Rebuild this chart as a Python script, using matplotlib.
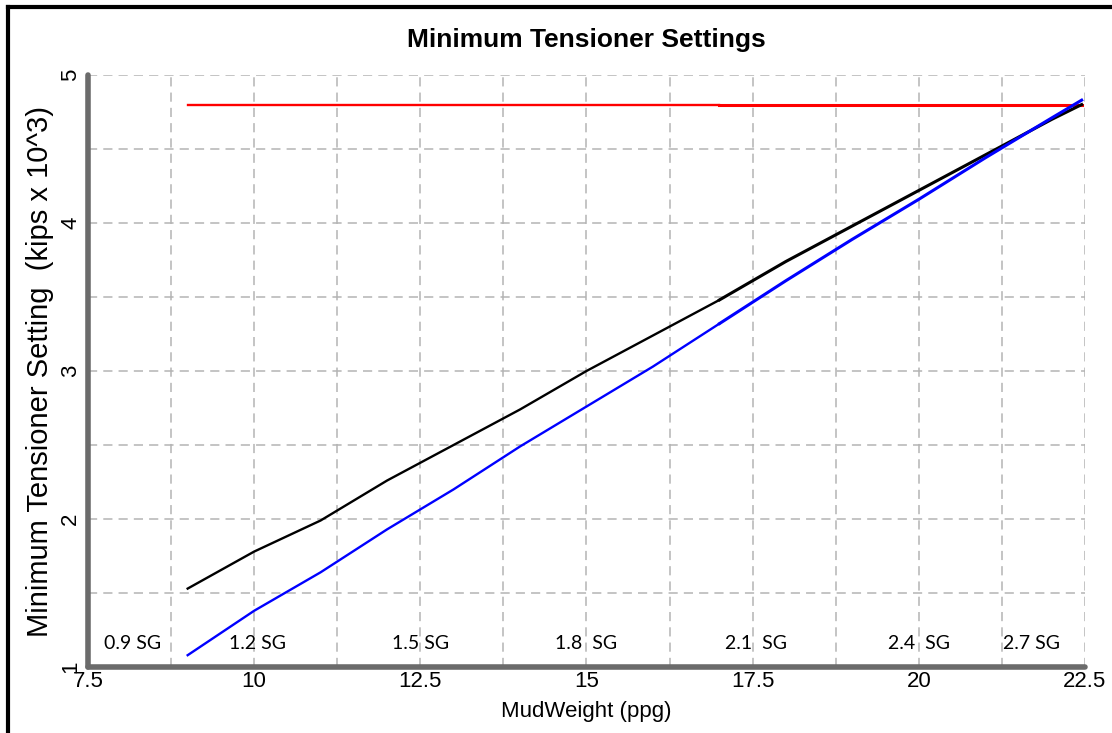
import numpy as np
import matplotlib.pyplot as plt
from matplotlib.lines import Line2D

# mud weight (ppg) and tensioner setting (kips x 10^3)
mud_wt = [9, 10, 11, 12, 13, 14, 15, 16, 17, 18, 19, 20, 21, 22, 22.45]
black_vals = [1.53, 1.78, 1.99, 2.26, 2.50, 2.74, 3.00, 3.24, 3.48, 3.74, 3.98, 4.22, 4.46, 4.70, 4.80]
blue_vals = [1.08, 1.38, 1.64, 1.93, 2.20, 2.49, 2.76, 3.03, 3.32, 3.61, 3.89, 4.16, 4.44, 4.71, 4.83]
red_vals = [4.8] * len(mud_wt)

sg_labels = ['0.9 SG', '1.2 SG', '1.5 SG', '1.8  SG', '2.1  SG', '2.4  SG', '2.7 SG']
sg_x = [8.17, 10.05, 12.5, 15.0, 17.55, 20.0, 21.7]
sg_y = 1.16

xticks = [7.5, 10, 12.5, 15, 17.5, 20, 22.5]
yticks = [1, 2, 3, 4, 5]

arial = ['Liberation Sans', 'DejaVu Sans']

fig = plt.figure(figsize=(11.12, 7.33), dpi=100)
ax = fig.add_axes([0.0791, 0.0900, 0.8966, 0.8077])

x = np.array(mud_wt)
split = mud_wt.index(17)
# the chart has the part past 17 ppg drawn twice, so it looks heavier there
for vals, col in [(red_vals, '#ff0000'), (black_vals, '#000000'), (blue_vals, '#0000ff')]:
    v = np.array(vals)
    ax.plot(x[:split + 1], v[:split + 1], color=col, lw=1.7, zorder=3)
    ax.plot(x[split:], v[split:], color=col, lw=2.2, zorder=3)

ax.set_xlim(7.5, 22.5)
ax.set_ylim(1, 5)
ax.set_xticks(xticks)
ax.set_xticks(np.arange(7.5, 22.6, 1.25), minor=True)
ax.set_yticks(yticks)
ax.set_yticks(np.arange(1, 5.01, 0.5), minor=True)
ax.set_xticklabels([f'{t:g}' for t in xticks], family=arial, fontsize=16)
ax.set_yticklabels([str(t) for t in yticks], family=arial, fontsize=16,
                   rotation=90, va='center')
ax.tick_params(axis='x', which='both', length=0, pad=3)
ax.tick_params(axis='y', which='both', length=0, pad=5)
ax.grid(which='both', color='#b4b4b4', ls=(0, (6, 4)), lw=1.1)

for side in ['top', 'right']:
    ax.spines[side].set_visible(False)
for side in ['left', 'bottom']:
    ax.spines[side].set_color('#6b6b6b')
    ax.spines[side].set_linewidth(4)
    ax.spines[side].set_capstyle('round')

for lab, sx in zip(sg_labels, sg_x):
    ax.text(sx, sg_y, lab, ha='center', va='center', fontsize=14,
            family=['Lato', 'DejaVu Sans'])

ax.set_title('Minimum Tensioner Settings', fontsize=19, fontweight='bold',
             family=arial, pad=20)
ax.set_xlabel('MudWeight (ppg)', family=arial, fontsize=16, labelpad=6)
ax.set_ylabel('Minimum Tensioner Setting  (kips x 10^3)', family=arial,
              fontsize=21, labelpad=4)

# frame around the picture (top and left edges only show)
fig.add_artist(Line2D([0.0072, 1.0], [0.9904, 0.9904], color='black', lw=3,
                      transform=fig.transFigure))
fig.add_artist(Line2D([0.0072, 0.0072], [0.0, 0.9904], color='black', lw=3,
                      transform=fig.transFigure))

fig.savefig('out.png', dpi=100)
